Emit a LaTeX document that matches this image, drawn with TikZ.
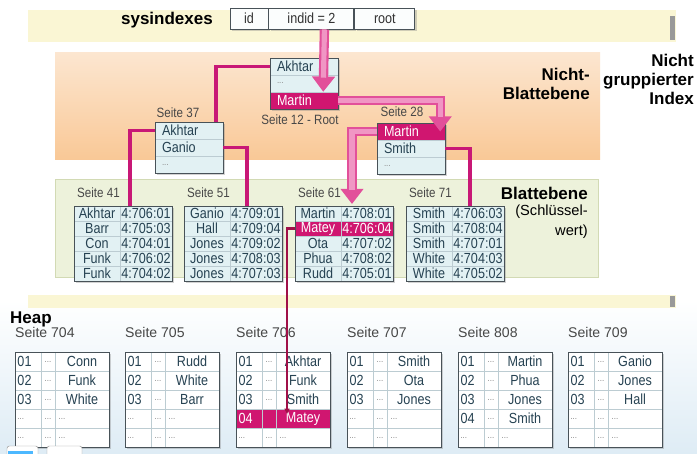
\documentclass[tikz,border=0pt]{standalone}
\usepackage{fontspec}
\setmainfont{Liberation Sans}
\newfontfamily\schmal{Liberation Sans}[FakeStretch=0.86]
\usetikzlibrary{arrows.meta,positioning,calc,shadows}

\definecolor{bandgelb}{RGB}{250,246,212}
\definecolor{orangeoben}{RGB}{252,230,208}
\definecolor{orangeunten}{RGB}{249,200,150}
\definecolor{gruenfl}{RGB}{237,242,219}
\definecolor{gruenrand}{RGB}{210,218,180}
\definecolor{zelle}{RGB}{226,241,243}
\definecolor{rahmen}{RGB}{72,82,88}
\definecolor{gitter}{RGB}{188,204,210}
\definecolor{schrift}{RGB}{38,66,82}
\definecolor{markiert}{RGB}{208,22,112}
\definecolor{verweisrot}{RGB}{200,24,118}
\definecolor{verweisdkl}{RGB}{160,16,72}
\definecolor{pfeilrand}{RGB}{226,80,154}
\definecolor{pfeilkern}{RGB}{240,150,196}
\definecolor{heapblau}{RGB}{222,236,245}

\newcommand{\upx}{0.03cm}
\newcommand{\pkt}{\textcolor{black!45}{\fontsize{8}{8}\selectfont...}}
\newcommand{\pktl}{\makebox[40pt][l]{\pkt}}

\tikzset{
  schatten/.style={drop shadow={shadow xshift=1.6pt,shadow yshift=-1.6pt,opacity=0.35}},
  rahmenbox/.style={fill=zelle,schatten},
  heapbox/.style={fill=white,schatten},
  randlinie/.style={draw=rahmen,line width=0.8pt},
  gitterlinie/.style={draw=gitter,line width=0.5pt},
  seite/.style={font=\schmal\fontsize{11.5}{13}\selectfont,text=black!72,inner sep=0pt},
  heaplbl/.style={font=\fontsize{12}{14}\selectfont,text=black!72,inner sep=0pt,anchor=west},
  zelltxt/.style={font=\schmal\fontsize{12.5}{14}\selectfont,text=schrift,inner sep=0pt},
  rubrik/.style={font=\bfseries\fontsize{14.5}{16.2}\selectfont,align=right,inner sep=0pt},
  kopfzelle/.style={draw=rahmen,line width=0.8pt,fill=white!85!zelle,minimum height=21*\upx,
    inner sep=0pt,font=\schmal\fontsize{12.5}{14}\selectfont,text=black!80},
  knotenzeile/.style={zelltxt,minimum height=17*\upx,text width=1.62cm,inner xsep=7*\upx,align=left},
  blattzelle/.style={zelltxt,minimum height=15*\upx},
  heapzelle/.style={zelltxt,minimum height=19*\upx},
  verweis/.style={draw=verweisrot,line width=2.6pt},
  heapverweis/.style={draw=verweisdkl,line width=2.2pt,-{Latex[length=5pt,width=5pt]}},
  dickpfeil/.style={draw=pfeilrand,line width=8pt,-{Triangle[length=13pt,width=19pt]}},
  pfeilmitte/.style={draw=pfeilkern,line width=4.4pt,shorten >=12pt},
}

% Seite im Nicht-Blattebene-Bereich: Name, x, y, Zeilen, markierte Zeile
\newcommand{\knotenseite}[5]{%
  \coordinate (#1-nw) at (#2,#3);
  \path[rahmenbox] (#2,#3) rectangle +(68,51);
  \foreach \z [count=\i] in {#4} {
    \ifnum\i=#5\relax\def\zfill{markiert}\def\zf{white}\else\def\zfill{none}\def\zf{schrift}\fi
    \node[knotenzeile,fill=\zfill,text=\zf] (#1-\i) at (#2+34,#3+17*\i-8.5) {\z};
  }
  \draw[gitterlinie] (#2,#3+17) -- +(68,0) (#2,#3+34) -- +(68,0);
  \draw[randlinie] (#2,#3) rectangle +(68,51);
}

% Seite der Blattebene: Name, x, Beschriftung, Zeilen, markierte Zeile
\newcommand{\blattseite}[5]{%
  \node[seite,anchor=west] (#1-lbl) at (#2+3,193) {#3};
  \coordinate (#1-nw) at (#2,206);
  \path[rahmenbox] (#2,206) rectangle +(98,75);
  \foreach \k/\v [count=\i] in {#4} {
    \ifnum\i=#5\relax\def\zfill{markiert}\def\zf{white}\else\def\zfill{none}\def\zf{schrift}\fi
    \node[blattzelle,minimum width=46*\upx,fill=\zfill,text=\zf] (#1-k\i) at (#2+23,206+15*\i-7.5) {\k};
    \node[blattzelle,minimum width=52*\upx,fill=\zfill,text=\zf] (#1-v\i) at (#2+72,206+15*\i-7.5) {\v};
  }
  \foreach \j in {1,...,4} \draw[gitterlinie] (#2,206+15*\j) -- +(98,0);
  \draw[gitterlinie] (#2+46,206) -- +(0,75);
  \draw[randlinie] (#2,206) rectangle +(98,75);
}

% Heap-Seite: Name, x, Beschriftung, Zeilen, markierte Zeile
\newcommand{\heapseite}[5]{%
  \node[heaplbl] (#1-lbl) at (#2,332) {#3};
  \coordinate (#1-nw) at (#2,352);
  \path[heapbox] (#2,352) rectangle +(94,95);
  \foreach \n/\z [count=\i] in {#4} {
    \ifnum\i=#5\relax\def\zfill{markiert}\def\zf{white}\def\zm{}\else\def\zfill{none}\def\zf{schrift}\def\zm{\pkt}\fi
    \coordinate (#1-r\i) at (#2,352+19*\i-9.5);
    \node[heapzelle,text width=0.63cm,inner xsep=2.5*\upx,align=left,fill=\zfill,text=\zf] (#1-n\i) at (#2+13,352+19*\i-9.5) {\n};
    \node[heapzelle,minimum width=14*\upx,fill=\zfill] (#1-m\i) at (#2+33,352+19*\i-9.5) {\zm};
    \node[heapzelle,minimum width=54*\upx,fill=\zfill,text=\zf] (#1-t\i) at (#2+67,352+19*\i-9.5) {\z};
  }
  \foreach \j in {1,...,4} \draw[gitterlinie] (#2,352+19*\j) -- +(94,0);
  \draw[gitterlinie] (#2+26,352) -- +(0,95) (#2+40,352) -- +(0,95);
  \draw[randlinie] (#2,352) rectangle +(94,95);
}

\begin{document}
\begin{tikzpicture}[x=0.03cm,y=-0.03cm]
  \useasboundingbox (0,0) rectangle (697,454);
  % Hintergrund und Bereiche
  \fill[white] (0,0) rectangle (697,454);
  \shade[top color=white,bottom color=heapblau] (0,300) rectangle (697,454);
  \fill[bandgelb] (28,10) rectangle (676,42);
  \fill[black!40] (670,16) rectangle (675,40);
  \shade[top color=orangeoben,bottom color=orangeunten] (55,53) rectangle (600,160);
  \filldraw[fill=gruenfl,draw=gruenrand] (55,179) rectangle (598,277);
  \fill[bandgelb] (28,295) rectangle (676,308);
  \fill[black!40] (670,296) rectangle (675,307);

  % sysindexes
  \node[rubrik,anchor=east] (sys-lbl) at (213,20) {sysindexes};
  \node[kopfzelle,schatten,minimum width=38*\upx] (sys-id) at (249,18.5) {id};
  \node[kopfzelle,schatten,minimum width=85*\upx,right=0pt of sys-id] (sys-indid) {indid = 2};
  \node[kopfzelle,schatten,minimum width=60*\upx,right=0pt of sys-indid] (sys-root) {root};

  % Nicht-Blattebene
  \knotenseite{r12}{270}{58}{Akhtar,\pkt,Martin}{3}
  \knotenseite{p37}{155}{122}{Akhtar,Ganio,\pkt}{0}
  \knotenseite{p28}{377}{123}{Martin,Smith,\pkt}{1}
  \node[seite] (r12-lbl) at (300,120) {Seite 12 - Root};
  \node[seite] (p37-lbl) at (178,113) {Seite 37};
  \node[seite] (p28-lbl) at (402,112) {Seite 28};
  \node[rubrik,anchor=east] (nb-lbl) at (590,83.5) {Nicht-\\Blattebene};
  \node[rubrik,anchor=east] (ngi-lbl) at (694,79) {Nicht\\gruppierter\\Index};

  % Blattebene
  \blattseite{b41}{74}{Seite 41}{Akhtar/4:706:01,Barr/4:705:03,Con/4:704:01,Funk/4:706:02,Funk/4:704:02}{0}
  \blattseite{b51}{184}{Seite 51}{Ganio/4:709:01,Hall/4:709:04,Jones/4:709:02,Jones/4:708:03,Jones/4:707:03}{0}
  \blattseite{b61}{295}{Seite 61}{Martin/4:708:01,Matey/4:706:04,Ota/4:707:02,Phua/4:708:02,Rudd/4:705:01}{2}
  \blattseite{b71}{406}{Seite 71}{Smith/4:706:03,Smith/4:708:04,Smith/4:707:01,White/4:704:03,White/4:705:02}{0}
  \node[rubrik,anchor=east] (bl-lbl) at (588,193) {Blattebene};
  \node[font=\fontsize{12.5}{16.6}\selectfont,align=right,inner sep=0pt,anchor=north east] (sk-lbl) at (588,205) {(Schlüssel-\\wert)};

  % Heap
  \node[rubrik,anchor=west] (heap-lbl) at (10,319) {Heap};
  \heapseite{h704}{15}{Seite 704}{01/Conn,02/Funk,03/White,\pkt/\pktl,\pkt/\pktl}{0}
  \heapseite{h705}{125}{Seite 705}{01/Rudd,02/White,03/Barr,\pkt/\pktl,\pkt/\pktl}{0}
  \heapseite{h706}{236}{Seite 706}{01/Akhtar,02/Funk,03/Smith,04/Matey,\pkt/\pktl}{4}
  \heapseite{h707}{347}{Seite 707}{01/Smith,02/Ota,03/Jones,\pkt/\pktl,\pkt/\pktl}{0}
  \heapseite{h808}{458}{Seite 808}{01/Martin,02/Phua,03/Jones,04/Smith,\pkt/\pktl}{0}
  \heapseite{h709}{568}{Seite 709}{01/Ganio,02/Jones,03/Hall,\pkt/\pktl,\pkt/\pktl}{0}

  % Verweise
  \draw[verweis] (r12-1.west) -| ($(p37-nw)+(61,0)$);
  \draw[verweis] (p37-1.west) -| ($(b41-nw)+(56,0)$);
  \draw[verweis] (p37-2.east) -| ($(b51-nw)+(63,0)$);
  \draw[verweis] (p28-2.east) -| ($(b71-nw)+(64,0)$);
  \draw[heapverweis] (b61-k2.west) -| ($(h706-r4)+(51,-4)$);

  % Suchpfad
  \draw[dickpfeil] ($(sys-indid.south east)+(-30,0)$) -- ($(r12-3.north east)+(-15,0)$);
  \draw[pfeilmitte] ($(sys-indid.south east)+(-30,0)$) -- ($(r12-3.north east)+(-15,0)$);
  \draw[dickpfeil] (r12-3.east) -| ($(p28-1.east)+(-5,0)$);
  \draw[pfeilmitte] (r12-3.east) -| ($(p28-1.east)+(-5,0)$);
  \draw[dickpfeil] (p28-1.west) -| ($(b61-nw)+(57,-2)$);
  \draw[pfeilmitte] (p28-1.west) -| ($(b61-nw)+(57,-2)$);

  % Reiter unten links
  \draw[black!40,fill=white,rounded corners=2pt] (7,446) rectangle (38,462);
  \fill[blue!40!cyan!70] (8,451) rectangle (33,455);
  \draw[black!40,fill=white,rounded corners=2pt] (47,446) rectangle (82,462);
\end{tikzpicture}
\end{document}
